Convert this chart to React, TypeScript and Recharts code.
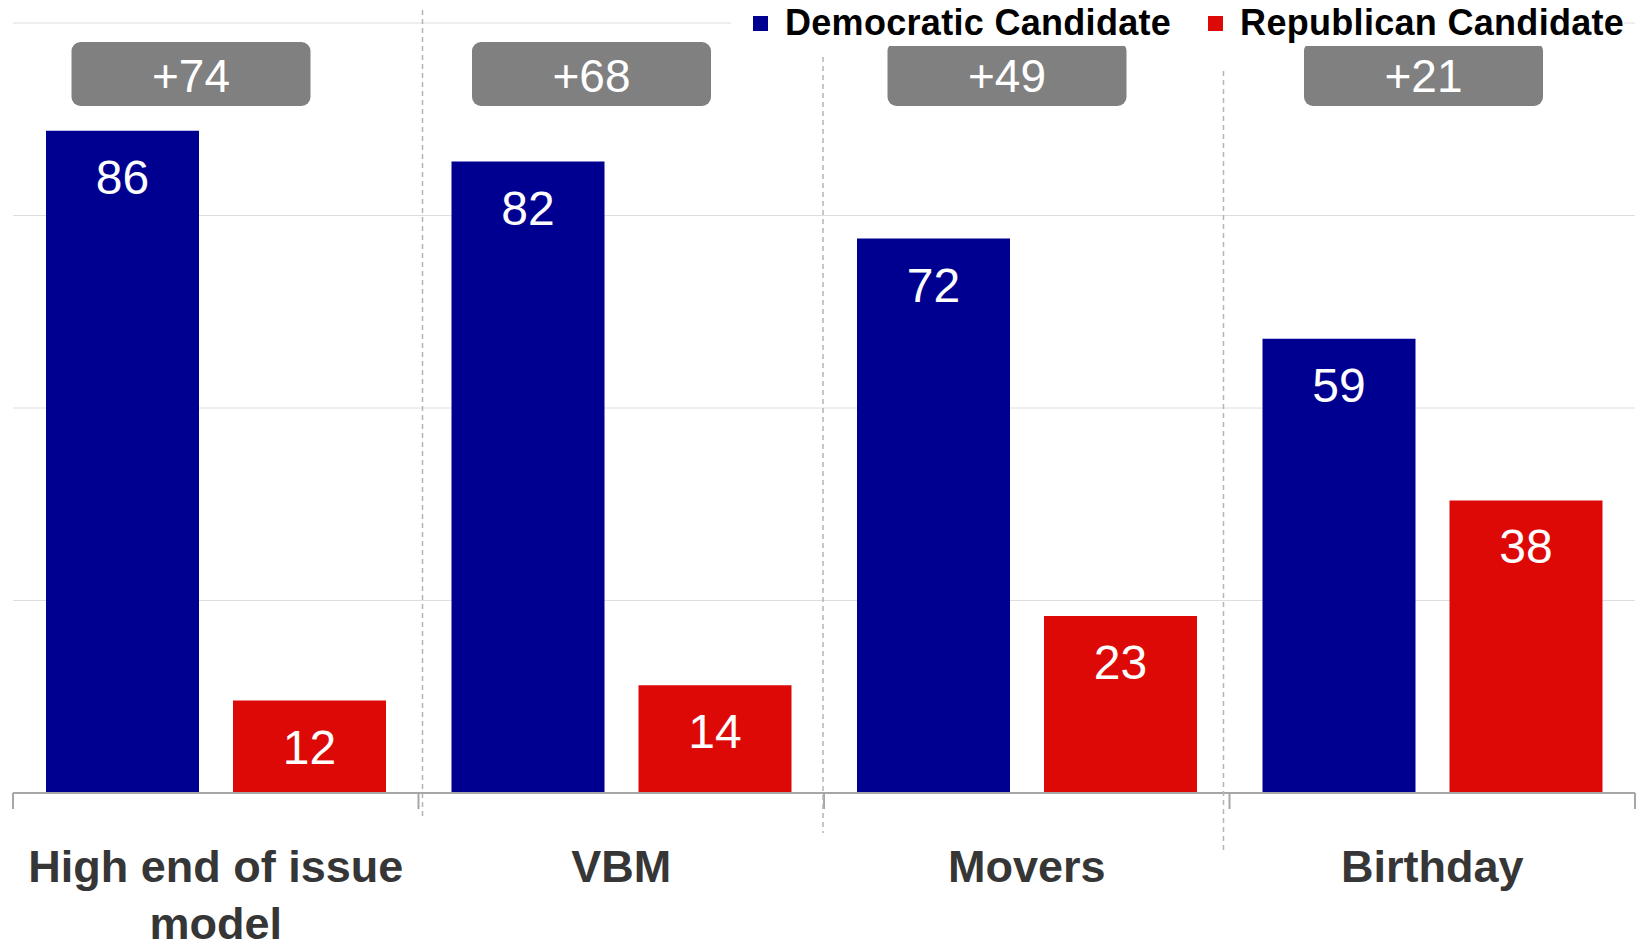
import React from 'react';
import { BarChart, Bar, XAxis, YAxis, CartesianGrid, Legend, LabelList } from 'recharts';

const categories = ['High end of issue model', 'VBM', 'Movers', 'Birthday'];
const democratic = [86, 82, 72, 59];
const republican = [12, 14, 23, 38];
const yTicks = [0, 25, 50, 75, 100];

const series = [
  { key: 'dem', name: 'Democratic Candidate', color: '#000090' },
  { key: 'rep', name: 'Republican Candidate', color: '#dd0907' },
];

const data = categories.map((category, i) => ({
  category,
  dem: democratic[i],
  rep: republican[i],
  margin: democratic[i] - republican[i],
}));

const WIDTH = 1639;
const HEIGHT = 941;
const MARGIN = { top: 23, right: 4, bottom: 0, left: 13 };
const X_AXIS_HEIGHT = 148;
const AXIS_Y = HEIGHT - MARGIN.bottom - X_AXIS_HEIGHT;
const BAND = (WIDTH - MARGIN.left - MARGIN.right) / categories.length;
const BAR_GAP = 34;
const FONT = '"Liberation Sans", Arial, Helvetica, sans-serif';
const MAX_LINE_CHARS = 18;

// hand-placed decoration, matching the original slide
const badgeShift = [-25, -30, -20, -9];
const dividerShift = [4, -1, -6];
const dividerTop = [10, 57, 71];
const dividerBottom = [817, 833, 850];

// greedy word wrap by character count
const wrap = (label: string) => {
  const lines: string[] = [];
  let cur = '';
  label.split(' ').forEach((w) => {
    const next = cur ? `${cur} ${w}` : w;
    if (next.length > MAX_LINE_CHARS && cur) {
      lines.push(cur);
      cur = w;
    } else {
      cur = next;
    }
  });
  if (cur) lines.push(cur);
  return lines;
};

const ValueLabel = (props: any) => {
  const { x, y, width, value } = props;
  return (
    <text x={x + width / 2} y={y + 63} fill="#fff" fontSize={48} fontFamily={FONT} textAnchor="middle">
      {value}
    </text>
  );
};

const Badge = (props: any) => {
  const { x, width, value, index } = props;
  const cx = x + width + BAR_GAP / 2 + badgeShift[index];
  return (
    <g>
      <rect x={cx - 119.5} y={42} width={239} height={64} rx={9} fill="#808080" />
      <text x={cx} y={92} fill="#fff" fontSize={46} fontFamily={FONT} textAnchor="middle">
        {`+${value}`}
      </text>
    </g>
  );
};

const CategoryTick = (props: any) => {
  const { x, payload, index } = props;
  const left = x - BAND / 2;
  const last = index === categories.length - 1;
  return (
    <g>
      <line x1={left} x2={left} y1={AXIS_Y} y2={AXIS_Y + 16} stroke="#a6a6a6" strokeWidth={2} />
      {last && (
        <line x1={left + BAND} x2={left + BAND} y1={AXIS_Y} y2={AXIS_Y + 16} stroke="#a6a6a6" strokeWidth={2} />
      )}
      {index > 0 && (
        <line
          x1={left + dividerShift[index - 1]}
          x2={left + dividerShift[index - 1]}
          y1={dividerTop[index - 1]}
          y2={dividerBottom[index - 1]}
          stroke="#b4b4b4"
          strokeWidth={1.5}
          strokeDasharray="5 4"
        />
      )}
      <text textAnchor="middle" fontSize={45} fontWeight="bold" fontFamily={FONT} fill="#363636">
        {wrap(payload.value).map((line, i) => (
          <tspan key={i} x={x} y={AXIS_Y + 89 + i * 57}>
            {line}
          </tspan>
        ))}
      </text>
    </g>
  );
};

const LegendContent = () => (
  <div
    style={{
      display: 'flex',
      alignItems: 'center',
      background: '#fff',
      paddingLeft: 22,
      height: 46,
      fontFamily: FONT,
      fontWeight: 'bold',
      fontSize: 36,
      letterSpacing: 0.3,
      lineHeight: '46px',
      color: '#000',
      whiteSpace: 'nowrap',
    }}
  >
    {series.map((s, i) => (
      <div key={s.key} style={{ display: 'flex', alignItems: 'center', marginLeft: i === 0 ? 0 : 37 }}>
        <span style={{ display: 'inline-block', width: 15, height: 15, background: s.color, marginRight: 17 }} />
        <span>{s.name}</span>
      </div>
    ))}
  </div>
);

export default function App() {
  return (
    <div style={{ position: 'absolute', left: 0, top: 0, width: WIDTH, height: HEIGHT, background: '#fff' }}>
      <BarChart
        width={WIDTH}
        height={HEIGHT}
        data={data}
        margin={MARGIN}
        barCategoryGap={33}
        barGap={BAR_GAP}
      >
        <CartesianGrid vertical={false} stroke="#dedede" strokeWidth={1} />
        <YAxis hide domain={[0, 100]} ticks={yTicks} />
        <XAxis
          dataKey="category"
          height={X_AXIS_HEIGHT}
          axisLine={{ stroke: '#a6a6a6', strokeWidth: 2 }}
          tickLine={false}
          tick={<CategoryTick />}
          interval={0}
        />
        <Legend
          layout="vertical"
          verticalAlign="middle"
          align="center"
          wrapperStyle={{ top: 0, left: 731, width: 'auto', height: 46 }}
          content={<LegendContent />}
        />
        <Bar dataKey="dem" name={series[0].name} fill={series[0].color} isAnimationActive={false}>
          <LabelList dataKey="dem" content={<ValueLabel />} />
          <LabelList dataKey="margin" content={<Badge />} />
        </Bar>
        <Bar dataKey="rep" name={series[1].name} fill={series[1].color} isAnimationActive={false}>
          <LabelList dataKey="rep" content={<ValueLabel />} />
        </Bar>
      </BarChart>
    </div>
  );
}
